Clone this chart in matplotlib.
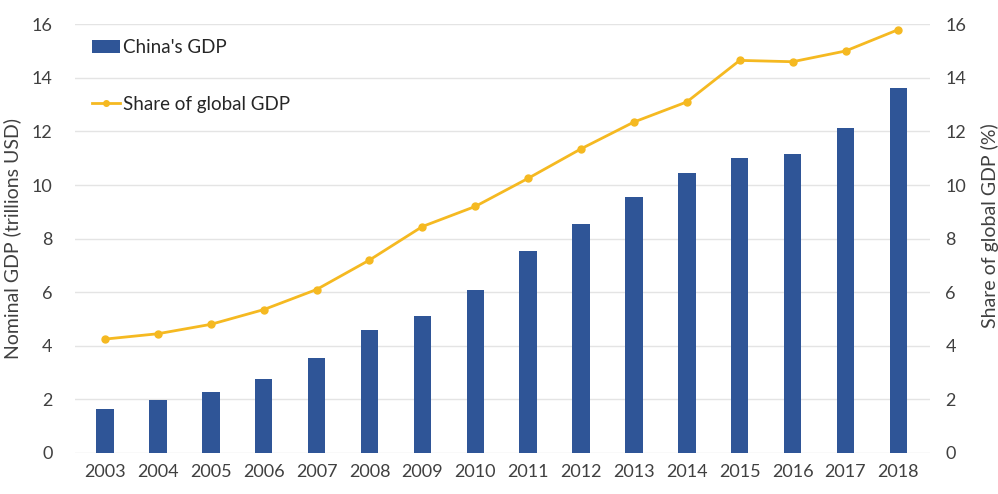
import matplotlib
matplotlib.use("Agg")
import matplotlib.pyplot as plt
from matplotlib.lines import Line2D
from matplotlib.patches import Patch
import numpy as np

plt.rcParams['font.family'] = ['Lato', 'DejaVu Sans']

years = ["2003", "2004", "2005", "2006", "2007", "2008", "2009", "2010",
         "2011", "2012", "2013", "2014", "2015", "2016", "2017", "2018"]
gdp = [1.66, 1.96, 2.29, 2.75, 3.55, 4.59, 5.10, 6.09,
       7.55, 8.53, 9.57, 10.44, 11.02, 11.14, 12.14, 13.61]
share = [4.25, 4.45, 4.8, 5.35, 6.1, 7.2, 8.45, 9.2,
         10.25, 11.35, 12.35, 13.1, 14.65, 14.6, 15.0, 15.8]

bar_color = "#2F5597"
line_color = "#F5B921"
text_color = "#404040"

fig = plt.figure(figsize=(9.98, 4.94), dpi=100)
ax = fig.add_axes([0.075, 0.083, 0.857, 0.868])
ax2 = ax.twinx()

x = np.arange(len(years))
ax.bar(x, gdp, width=0.33, color=bar_color, zorder=2)
ax2.plot(x, share, color=line_color, lw=2, marker='o', ms=5, zorder=3)

for a in (ax, ax2):
    a.set_ylim(0, 16)
    a.set_yticks(np.arange(0, 17, 2))
    for s in a.spines.values():
        s.set_visible(False)
    a.tick_params(length=0, labelsize=13, colors=text_color)
ax.set_xlim(-0.57, 15.6)
ax.set_xticks(x)
ax.set_xticklabels(years)
ax.tick_params(axis='x', pad=8)
ax.tick_params(axis='y', pad=16)
ax2.tick_params(axis='y', pad=11)
ax.grid(axis='y', color='#E4E4E4', lw=1, zorder=0)
ax.set_axisbelow(True)

ax.set_ylabel("Nominal GDP (trillions USD)", fontsize=14, color=text_color)
ax2.set_ylabel("Share of global GDP (%)", fontsize=14, color=text_color, rotation=90)
ax.yaxis.set_label_coords(-0.063, 0.5)
ax2.yaxis.set_label_coords(1.0596, 0.53)

handles = [Patch(facecolor=bar_color, label="China's GDP"),
           Line2D([0], [0], color=line_color, lw=2, marker='o', ms=4, label="Share of global GDP")]
leg = ax.legend(handles=handles, loc='upper left', bbox_to_anchor=(0.02, 0.965),
                frameon=False, fontsize=13.5, labelspacing=2.1, handlelength=1.5,
                handletextpad=0.15, borderaxespad=0, borderpad=0)
for t in leg.get_texts():
    t.set_color("#262626")

fig.savefig("out.png", dpi=100)
